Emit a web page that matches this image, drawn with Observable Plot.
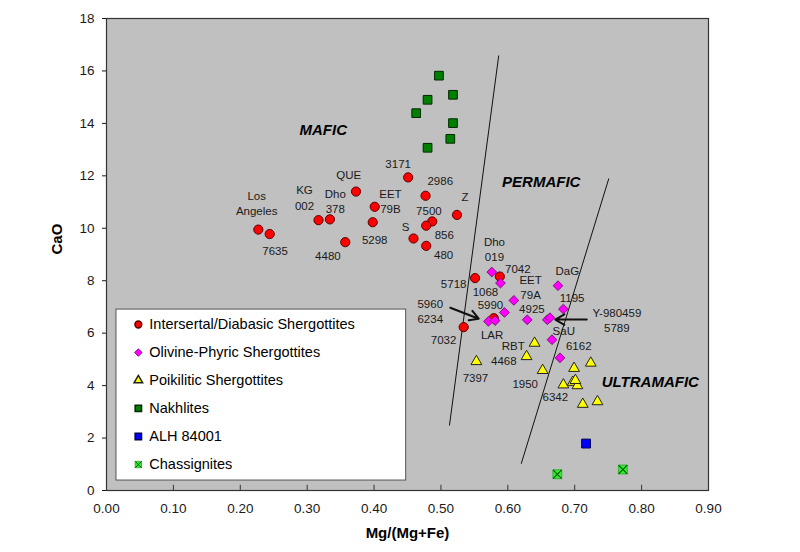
<!DOCTYPE html>
<html><head><meta charset="utf-8">
<script src="https://cdn.jsdelivr.net/npm/d3@7"></script>
<script src="https://cdn.jsdelivr.net/npm/@observablehq/plot@0.6"></script>
<style>body{margin:0;background:#fff;}</style>
</head><body><div id="chart"></div>
<script>
// ---- Data (Mg/(Mg+Fe) vs CaO) ----
const intersertalX = [0.227,0.244,0.317,0.334,0.373,0.401,0.398,0.357,0.451,0.477,0.524,0.487,0.478,0.459,0.478,0.551,0.588,0.534,0.579];
const intersertalY = [9.95,9.78,10.31,10.34,11.40,10.82,10.23,9.47,11.94,11.24,10.51,10.26,10.10,9.61,9.33,8.10,8.16,6.23,6.57];
const olivineX = [0.576,0.589,0.609,0.595,0.629,0.675,0.683,0.659,0.663,0.666,0.678,0.571,0.581];
const olivineY = [8.33,7.91,7.25,6.79,6.51,7.81,6.92,6.51,6.59,5.75,5.06,6.45,6.48];
const poikiliticX = [0.553,0.628,0.640,0.652,0.683,0.699,0.724,0.697,0.704,0.701,0.712,0.734];
const poikiliticY = [4.92,5.11,5.62,4.58,4.03,4.66,4.86,4.13,4.00,4.20,3.29,3.39];
const nakhliteX = [0.497,0.518,0.480,0.463,0.518,0.514,0.480];
const nakhliteY = [15.82,15.09,14.90,14.39,14.01,13.41,13.07];
const alhX = [0.717];
const alhY = [1.79];
const chassigniteX = [0.674,0.772];
const chassigniteY = [0.62,0.80];

// sample name labels
const sampleLabels = ["Los\nAngeles","7635","KG\n002","Dho\n378","QUE","EET\n79B","5298","4480","3171","2986","Z","7500","S","856","480",
  "Dho\n019","7042","5718","1068","EET\n79A","DaG","1195","5990","4925","5960\n6234","Y-980459\n5789","7032","LAR","RBT","SaU","6162","4468","7397","1950","6342"];
const sampleLabelX = [0.2245,0.252,0.296,0.342,0.362,0.4245,0.401,0.331,0.436,0.499,0.536,0.482,0.447,0.505,0.504,
  0.580,0.615,0.519,0.5665,0.634,0.689,0.696,0.574,0.636,0.484,0.763,0.504,0.5765,0.608,0.6836,0.706,0.594,0.5516,0.626,0.671];
const sampleLabelY = [10.98,9.18,11.19,11.07,12.05,11.06,9.60,8.96,12.50,11.85,11.21,10.68,10.10,9.79,9.00,
  9.21,8.49,7.91,7.59,7.77,8.39,7.37,7.09,6.97,6.86,6.50,5.79,5.95,5.56,6.13,5.53,4.96,4.32,4.11,3.59];

// field names
const fieldNames = ["MAFIC","PERMAFIC","ULTRAMAFIC"];
const fieldX = [0.324,0.650,0.813];
const fieldY = [13.73,11.75,4.12];

// field boundaries
const boundaryX1 = [0.5864,0.751];
const boundaryY1 = [16.59,11.90];
const boundaryX2 = [0.5127,0.620];
const boundaryY2 = [2.48,1.02];

// pointer arrows
const arrowX1 = [0.514,0.718];
const arrowY1 = [6.97,6.52];
const arrowX2 = [0.5565,0.671];
const arrowY2 = [6.55,6.52];

// axes
const xTicks = [0,0.1,0.2,0.3,0.4,0.5,0.6,0.7,0.8,0.9];
const xTickLabels = ["0.00","0.10","0.20","0.30","0.40","0.50","0.60","0.70","0.80","0.90"];
const yTicks = [0,2,4,6,8,10,12,14,16,18];
const yTickLabels = ["0","2","4","6","8","10","12","14","16","18"];

// legend
const legendNames = ["Intersertal/Diabasic Shergottites","Olivine-Phyric Shergottites","Poikilitic Shergottites","Nakhlites","ALH 84001","Chassignites"];
const legendRowY = [6.33,5.26,4.20,3.13,2.06,0.99];

const pts = (xs, ys) => xs.map((x, i) => ({x, y: ys[i]}));
const idx = (arr) => arr.map((_, i) => i);

const font = "Arial, 'Liberation Sans', sans-serif";
const txt = "#1a1a1a";

const chart = Plot.plot({
  width: 800, height: 552,
  marginLeft: 106, marginRight: 92, marginTop: 18, marginBottom: 62,
  x: {domain: [0, 0.9]},
  y: {domain: [0, 18]},
  style: {fontFamily: font, fontSize: "13.5px", color: txt, background: "#fff", overflow: "visible"},
  marks: [
    Plot.frame({fill: "#c0c0c0", stroke: "none"}),
    // boundaries
    Plot.link(idx(boundaryX1), {x1: i => boundaryX1[i], y1: i => boundaryY1[i], x2: i => boundaryX2[i], y2: i => boundaryY2[i], stroke: "#111", strokeWidth: 1}),
    // arrows
    Plot.arrow(idx(arrowX1), {x1: i => arrowX1[i], y1: i => arrowY1[i], x2: i => arrowX2[i], y2: i => arrowY2[i], stroke: "#111", strokeWidth: 2, headLength: 9, bend: 0}),
    // field names
    Plot.text(fieldNames, {x: (d, i) => fieldX[i], y: (d, i) => fieldY[i], fontSize: 15, fontWeight: "bold", fontStyle: "italic", fill: "#000"}),
    // sample labels
    Plot.text(sampleLabels, {x: (d, i) => sampleLabelX[i], y: (d, i) => sampleLabelY[i], fontSize: 11.5, lineHeight: 1.32, fill: txt}),
    // data points
    Plot.dot(pts(nakhliteX, nakhliteY), {x: "x", y: "y", symbol: "square", r: 4.9, fill: "#008000", stroke: "#002800", strokeWidth: 1}),
    Plot.dot(pts(intersertalX, intersertalY), {x: "x", y: "y", symbol: "circle", r: 4.6, fill: "#ff0000", stroke: "#5a0000", strokeWidth: 1}),
    Plot.dot(pts(olivineX, olivineY), {x: "x", y: "y", symbol: "diamond2", r: 4.4, fill: "#ff00ff", stroke: "#660066", strokeWidth: 0.8}),
    Plot.dot(pts(poikiliticX, poikiliticY), {x: "x", y: "y", symbol: "triangle", r: 4.0, fill: "#ffff00", stroke: "#222", strokeWidth: 1}),
    Plot.dot(pts(alhX, alhY), {x: "x", y: "y", symbol: "square", r: 5, fill: "#0000ff", stroke: "#000050", strokeWidth: 1}),
    Plot.dot(pts(chassigniteX, chassigniteY), {x: "x", y: "y", symbol: "square", r: 5, fill: "#33ee33", stroke: "#22aa22", strokeWidth: 0.8}),
    Plot.dot(pts(chassigniteX, chassigniteY), {x: "x", y: "y", symbol: "times", r: 4, stroke: "#005500", strokeWidth: 1.1}),
    // legend
    Plot.rect([0], {x1: 0.0149, x2: 0.448, y1: 0.38, y2: 6.90, fill: "#fff", stroke: "#555", strokeWidth: 1}),
    Plot.dot([0], {x: 0.0476, y: legendRowY[0], symbol: "circle", r: 3.4, fill: "#ff0000", stroke: "#5a0000"}),
    Plot.dot([0], {x: 0.0476, y: legendRowY[1], symbol: "diamond2", r: 3.4, fill: "#ff00ff", stroke: "#660066", strokeWidth: 0.8}),
    Plot.dot([0], {x: 0.0476, y: legendRowY[2], symbol: "triangle", r: 3.2, fill: "#ffff00", stroke: "#222"}),
    Plot.dot([0], {x: 0.0476, y: legendRowY[3], symbol: "square", r: 3.6, fill: "#008000", stroke: "#002800"}),
    Plot.dot([0], {x: 0.0476, y: legendRowY[4], symbol: "square", r: 3.6, fill: "#0000ff", stroke: "#000050"}),
    Plot.dot([0], {x: 0.0476, y: legendRowY[5], symbol: "square", r: 3.6, fill: "#33ee33", stroke: "#22aa22", strokeWidth: 0.8}),
    Plot.dot([0], {x: 0.0476, y: legendRowY[5], symbol: "times", r: 3, stroke: "#005500", strokeWidth: 1}),
    Plot.text(legendNames, {x: 0.0640, y: (d, i) => legendRowY[i], textAnchor: "start", fontSize: 14.5, fill: "#000"}),
    // x tick marks (inward)
    Plot.ruleX(xTicks, {x: d => d, y1: 0, y2: 0.2, stroke: "#333"}),
    // axes
    Plot.axisY({ticks: yTicks, tickSize: 4, tickPadding: 8, fontSize: 13.5, label: null, tickFormat: d => yTickLabels[yTicks.indexOf(d)]}),
    Plot.axisX({ticks: xTicks, tickSize: 0, tickPadding: 13, fontSize: 13.5, label: null, tickFormat: d => xTickLabels[xTicks.indexOf(d)]}),
    Plot.frame({stroke: "#333", strokeWidth: 1.2}),
    // axis titles
    Plot.text(["CaO"], {frameAnchor: "left", dx: -49, rotate: -90, fontSize: 15, fontWeight: "bold", fill: "#000"}),
    Plot.text(["Mg/(Mg+Fe)"], {frameAnchor: "bottom", dy: 47, fontSize: 15, fontWeight: "bold", fill: "#000"})
  ]
});
document.getElementById("chart").appendChild(chart);
</script>
</body></html>
